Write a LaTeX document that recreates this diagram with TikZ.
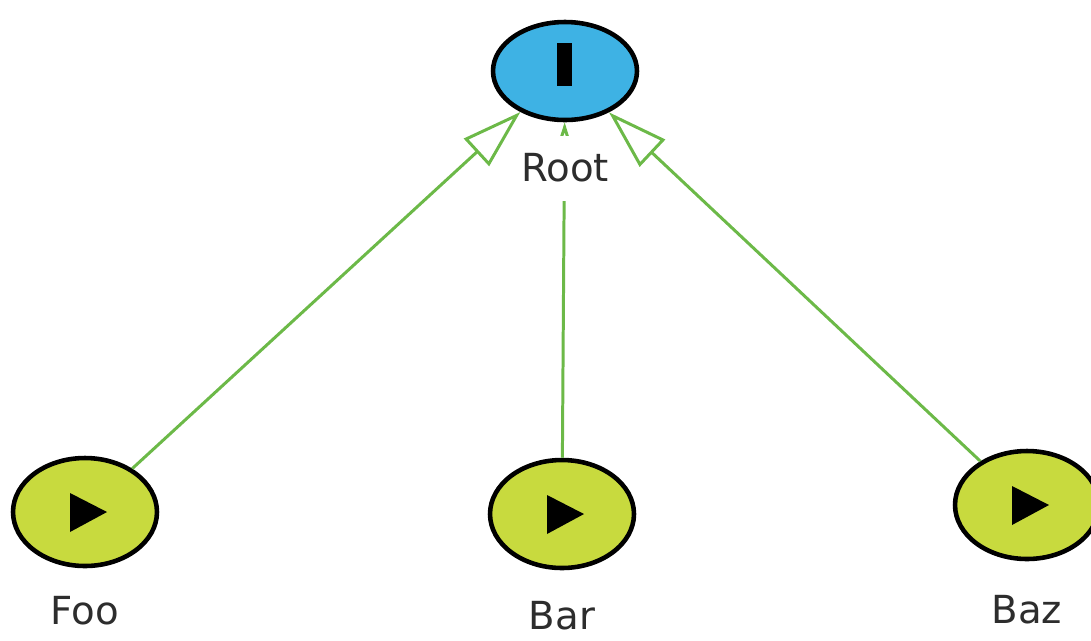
\documentclass[tikz,border=0pt]{standalone}
\usepackage{fontspec}
\setmainfont{DejaVu Sans}
\usetikzlibrary{positioning,arrows.meta,shapes.geometric}
\definecolor{rtBlue}{RGB}{62,178,228}
\definecolor{lfYellow}{RGB}{200,218,62}
\definecolor{edGreen}{RGB}{108,185,72}
\definecolor{txGray}{RGB}{45,45,45}
\tikzset{
    base/.style={font=\fontsize{22}{26}\selectfont, align=center},
    rootnode/.style={ellipse, draw=black, line width=2.6pt, fill=rtBlue,
                     minimum width=2.88cm, minimum height=1.96cm, inner sep=0pt},
    leafnode/.style={ellipse, draw=black, line width=2.6pt, fill=lfYellow,
                     minimum width=2.88cm, minimum height=2.16cm, inner sep=0pt},
    inherit/.style={-{Triangle[open, length=34pt, width=21pt]}, line width=1.7pt, color=edGreen},
    tag/.style={base, text=txGray, fill=white, inner sep=0pt}
}
\begin{document}
\begin{tikzpicture}[x=0.02cm, y=-0.02cm]
  \useasboundingbox (0,0) rectangle (1091,640);
  % Root and leaves
  \node[rootnode] (root) at (565,71) {};
  \node[leafnode] (foo) at (85,512) {};
  \node[leafnode] (bar) at (562,514) {};
  \node[leafnode] (baz) at (1027,505) {};

  % Inheritance edges
  \draw[inherit] (foo) -- (root);
  \draw[inherit] (bar) -- (root);
  \draw[inherit] (baz) -- (root);

  % Icons
  \fill[black] ([shift={(-8,-28)}]root.center) rectangle ([shift={(7,15)}]root.center);
  \foreach \n in {foo,bar,baz}
    \fill[black] ([shift={(-15,-19)}]\n.center) -- ([shift={(-15,20)}]\n.center)
                 -- ([shift={(22,0)}]\n.center) -- cycle;

  % Labels
  \node[tag, minimum height=1.3cm, minimum width=2cm] (rootlabel) at (565,168) {Root};
  \node[tag] (foolabel) at (85,611) {Foo};
  \node[tag] (barlabel) at (562,616) {Bar};
  \node[tag] (bazlabel) at (1027,610) {Baz};
\end{tikzpicture}
\end{document}
